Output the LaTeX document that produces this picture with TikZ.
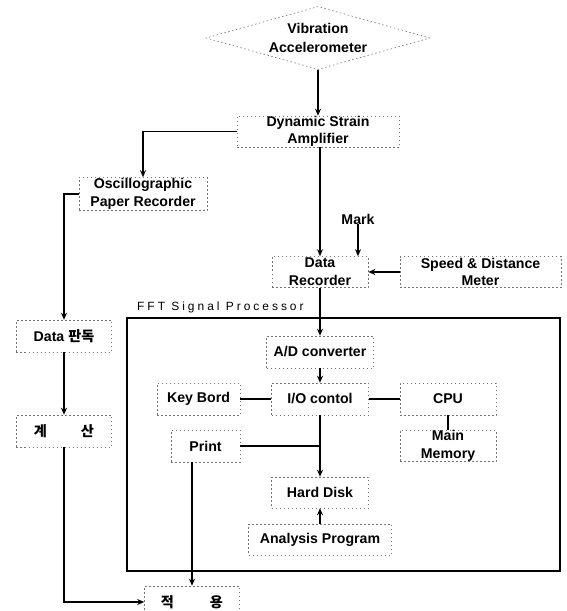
\documentclass[tikz,border=0pt]{standalone}
\usepackage{fontspec}
\setmainfont{Liberation Sans}
\newfontfamily\krfont{Noto Sans CJK KR}
\newfontfamily\fftfont{Liberation Sans}[LetterSpace=25]
\usetikzlibrary{shapes.geometric,arrows.meta}
\tikzset{
  dotbox/.style={draw=black!55, line width=0.6bp, dash pattern=on 1.5bp off 2.5bp, rectangle, inner sep=0pt, align=center,
    font=\bfseries\fontsize{14.2}{17}\selectfont},
  plain/.style={inner sep=0pt, font=\bfseries\fontsize{14.2}{17}\selectfont},
  conn/.style={line width=1.8bp, draw=black},
  arr/.style={conn, -{Stealth[length=7bp,width=6bp]}},
}
\begin{document}
\begin{tikzpicture}[x=1bp,y=-1bp]
\useasboundingbox (0,0) rectangle (567,611);
\fill[white] (0,0) rectangle (567,611);

% FFT frame
\node[draw=black, line width=1.5bp, rectangle, inner sep=0pt, minimum width=433bp, minimum height=253bp] (fft) at (343.5,444.5) {};
\node[anchor=west, inner sep=0pt, font=\fftfont\fontsize{12}{14}\selectfont] (fftlab) at (137,307) {FFT Signal Processor};

% nodes
\node[diamond, draw=black!55, line width=0.6bp, dash pattern=on 1.5bp off 2.5bp, aspect=3.55, minimum width=224bp, minimum height=63bp, inner sep=0pt, align=center, font=\bfseries\fontsize{14.2}{19}\selectfont] (acc) at (318,38) {Vibration\\Accelerometer};
\node[dotbox, minimum width=162bp, minimum height=31bp] (dsa) at (318,131.5) {Dynamic Strain\\Amplifier};
\node[dotbox, minimum width=128bp, minimum height=33bp, font=\bfseries\fontsize{14.2}{18}\selectfont] (osc) at (143,194) {Oscillographic\\Paper Recorder};
\node[plain] (mark) at (358,219) {Mark};
\node[dotbox, minimum width=96bp, minimum height=31bp, font=\bfseries\fontsize{14.2}{18}\selectfont] (dr) at (320,272) {Data\\Recorder};
\node[dotbox, minimum width=161bp, minimum height=31bp] (sdm) at (480.5,272) {Speed \& Distance\\Meter};
\node[dotbox, minimum width=95bp, minimum height=32bp] (dp) at (64,336) {Data {\krfont 판독}};
\node[dotbox, minimum width=95bp, minimum height=32bp] (calc) at (64,431) {\krfont 계\hspace{34bp}산};
\node[dotbox, minimum width=107bp, minimum height=32bp] (ad) at (320,352) {A/D converter};
\node[dotbox, minimum width=83bp, minimum height=32bp] (kb) at (198.5,399) {Key Bord};
\node[dotbox, minimum width=97bp, minimum height=32bp] (io) at (320,399) {I/O contol};
\node[dotbox, minimum width=96bp, minimum height=32bp] (cpu) at (448,399) {CPU};
\node[dotbox, minimum width=69bp, minimum height=32bp] (pr) at (205.5,446) {Print};
\node[dotbox, minimum width=96bp, minimum height=31bp, font=\bfseries\fontsize{14.2}{18}\selectfont] (mm) at (448,446) {Main\\Memory};
\node[dotbox, minimum width=97bp, minimum height=31bp] (hd) at (320,492.5) {Hard Disk};
\node[dotbox, minimum width=143bp, minimum height=31bp] (ap) at (320,539.5) {Analysis Program};
\node[dotbox, minimum width=95bp, minimum height=32bp] (use) at (192,602) {\krfont 적\hspace{36bp}용};

% connectors
\draw[arr] (acc.south) -- (acc.south |- dsa.north);
\draw[arr] (dsa.west) -| (osc.north);
\draw[arr] (dr.north |- dsa.south) -- (dr.north);
\draw[arr] (mark.south) -- (mark.south |- dr.north);
\draw[arr] (sdm.west) -- (dr.east);
\draw[arr] (osc.west) -| (dp.north);
\draw[arr] (dp.south) -- (calc.north);
\draw[arr] (calc.south) |- (use.west);
\draw[arr] (dr.south) -- (dr.south |- ad.north);
\draw[arr] (ad.south) -- (io.north);
\draw[conn] (kb.east) -- (io.west);
\draw[conn] (io.east) -- (cpu.west);
\draw[conn] (cpu.south) -- (mm.north);
\draw[arr] (io.south) -- (hd.north);
\draw[conn] (pr.east) -- (io.south |- pr.east);
\draw[arr] (use.north |- pr.south) -- (use.north);
\draw[arr] (ap.north) -- (hd.south);
\end{tikzpicture}
\end{document}
